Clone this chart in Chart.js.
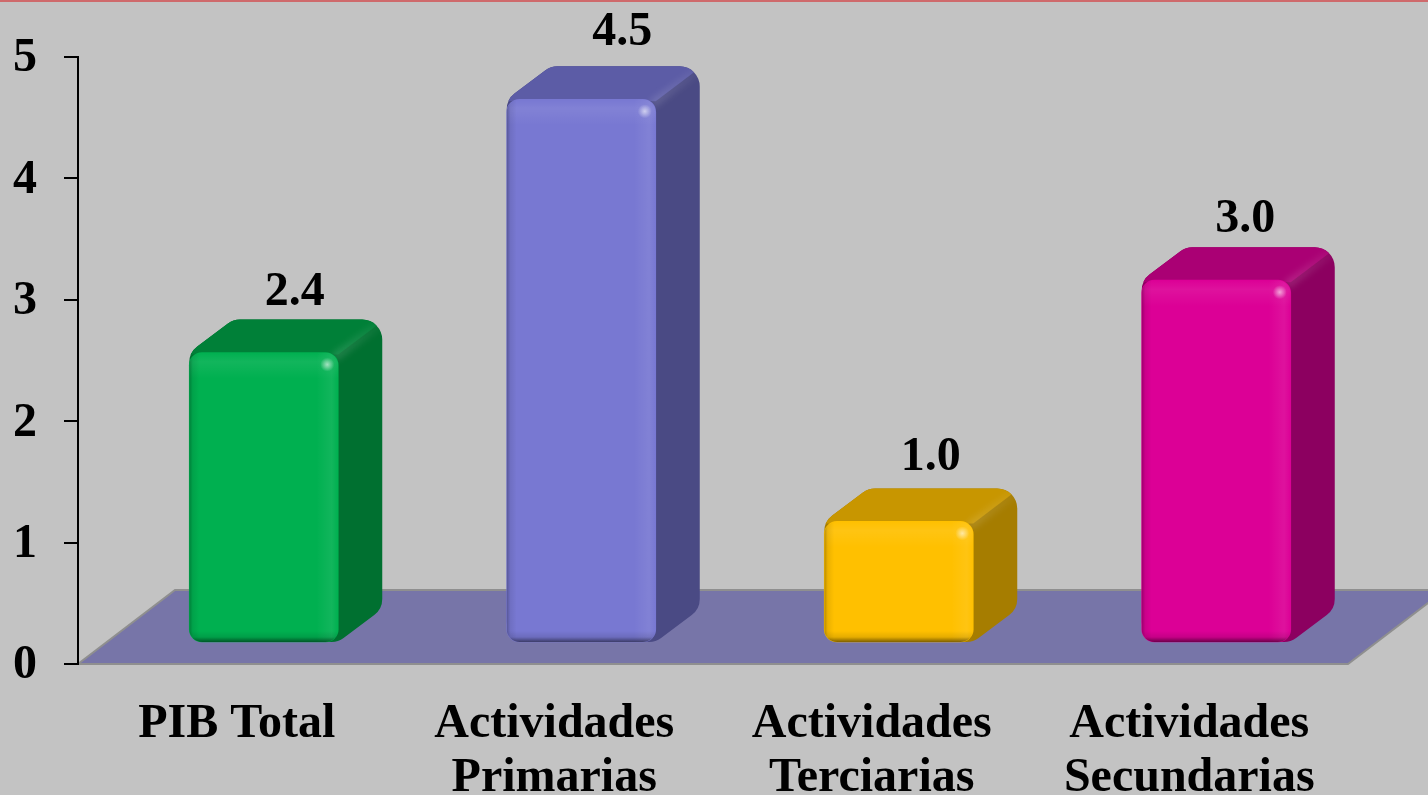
<!DOCTYPE html>
<html><head><meta charset="utf-8">
<style>html,body{margin:0;padding:0;background:#c3c3c3;overflow:hidden}
#bar{position:absolute;left:0;top:0;width:1428px;height:2px;background:#cf6a6c}
#w{position:absolute;left:0;top:0;width:1428px;height:795px}</style>
<script src="https://cdn.jsdelivr.net/npm/chart.js@4"></script>
</head><body><div id="w"><canvas id="c" width="1428" height="795"></canvas></div><div id="bar"></div>
<script>
const categories=[["PIB Total"],["Actividades","Primarias"],["Actividades","Terciarias"],["Actividades","Secundarias"]];
const values=[2.4,4.5,1.0,3.0];
const valueLabels=["2.4","4.5","1.0","3.0"];
const yTicks=[0,1,2,3,4,5];
const frontColors=["#00b050","#7878d2","#ffc000","#dc0096"];
const topColors=["#008038","#5c5ca6","#c89600","#aa0074"];
const sideColors=["#007030","#4a4a84","#a67d00","#8c0060"];
const labelNudge=[[31,-60],[41,-67],[32,-64],[29,-61]];

const FONT='"Liberation Serif"';
const DX=44,DY=33,R=13,SHIFT=27;

function roundPoly(ctx,pts,r){
  ctx.beginPath();
  const n=pts.length;
  const a=pts[n-1],b=pts[0];
  ctx.moveTo((a[0]+b[0])/2,(a[1]+b[1])/2);
  for(let i=0;i<n;i++){
    const p=pts[i],q=pts[(i+1)%n];
    ctx.arcTo(p[0],p[1],(p[0]+q[0])/2,(p[1]+q[1])/2,r);
  }
  ctx.closePath();
}
function lin(ctx,x0,y0,x1,y1,stops){
  const g=ctx.createLinearGradient(x0,y0,x1,y1);
  stops.forEach(s=>g.addColorStop(s[0],s[1]));
  return g;
}
const scene={
  id:'scene',
  beforeDraw(chart){
    const {ctx,scales:{x,y}}=chart;
    const b=y.getPixelForValue(0);
    ctx.save();
    ctx.beginPath();
    ctx.moveTo(x.left,b);ctx.lineTo(x.right,b);
    ctx.lineTo(x.right+97,b-74);ctx.lineTo(x.left+97,b-74);ctx.closePath();
    ctx.fillStyle='#7775a8';ctx.fill();
    ctx.lineWidth=2;ctx.strokeStyle='#8f8f8f';ctx.stroke();
    ctx.restore();
  },
  afterDatasetsUpdate(chart){
    chart.getDatasetMeta(0).data.forEach(el=>{el.x+=SHIFT;});
  },
  beforeDatasetDraw(chart){
    const {ctx}=chart;
    chart.getDatasetMeta(0).data.forEach((el,i)=>{
      const w=el.width,l=el.x-w/2,r=el.x+w/2,t=el.y,b=el.base;
      ctx.save();
      roundPoly(ctx,[[l,t],[l+DX,t-DY],[r+DX,t-DY],[r+DX,b-DY],[r,b],[l,b]],20);
      ctx.fillStyle=sideColors[i];ctx.fill();
      ctx.clip();
      ctx.beginPath();
      ctx.moveTo(l-5,t+2);ctx.lineTo(l+DX-5,t-DY-5);ctx.lineTo(r+DX+8,t-DY-5);ctx.lineTo(r+DX+1,t-DY+1);ctx.lineTo(r,t+2);ctx.closePath();
      ctx.fillStyle=topColors[i];ctx.fill();
      // soft ridge between top and side, fading toward the back
      ctx.filter='blur(3px)';
      ctx.beginPath();ctx.moveTo(r-4,t+5);ctx.lineTo(r+DX-3,t-DY+5);
      ctx.strokeStyle=lin(ctx,r,t,r+DX,t-DY,[[0,'rgba(255,255,255,0.12)'],[1,'rgba(255,255,255,0.03)']]);
      ctx.lineWidth=9;ctx.stroke();
      ctx.restore();
    });
  },
  afterDatasetDraw(chart){
    const {ctx}=chart;
    chart.getDatasetMeta(0).data.forEach((el,i)=>{
      const w=el.width,l=el.x-w/2,r=el.x+w/2,t=el.y,b=el.base;
      ctx.save();
      roundPoly(ctx,[[l,t],[r,t],[r,b],[l,b]],R);ctx.clip();
      ctx.fillStyle=lin(ctx,0,t,0,t+26,[[0,'rgba(255,255,255,0)'],[.35,'rgba(255,255,255,0.07)'],[1,'rgba(255,255,255,0)']]);
      ctx.fillRect(l,t,w,26);
      ctx.fillStyle=lin(ctx,l,0,l+10,0,[[0,'rgba(0,0,0,0.28)'],[.35,'rgba(0,0,0,0.08)'],[1,'rgba(0,0,0,0)']]);
      ctx.fillRect(l,t,10,b-t);
      ctx.fillStyle=lin(ctx,r-22,0,r,0,[[0,'rgba(255,255,255,0)'],[.7,'rgba(255,255,255,0.07)'],[1,'rgba(255,255,255,0)']]);
      ctx.fillRect(r-22,t,22,b-t);
      ctx.fillStyle=lin(ctx,0,b-11,0,b,[[0,'rgba(0,0,0,0)'],[.55,'rgba(0,0,0,0.10)'],[1,'rgba(0,0,0,0.50)']]);
      ctx.fillRect(l,b-11,w,11);
      const sx=r-11,sy=t+12;
      const g=ctx.createRadialGradient(sx,sy,0,sx,sy,7);
      g.addColorStop(0,'rgba(255,255,255,0.6)');g.addColorStop(1,'rgba(255,255,255,0)');
      ctx.fillStyle=g;ctx.fillRect(sx-7,sy-7,14,14);
      ctx.restore();
    });
  },
  afterDatasetsDraw(chart){
    const {ctx}=chart;
    ctx.save();
    ctx.font='bold 48px '+FONT;ctx.fillStyle='#000';ctx.textAlign='center';ctx.textBaseline='middle';
    chart.getDatasetMeta(0).data.forEach((el,i)=>{
      ctx.fillText(valueLabels[i],el.x+labelNudge[i][0],el.y+labelNudge[i][1]);
    });
    ctx.restore();
  }
};
const barUnit=120.6;
new Chart(document.getElementById('c'),{
  type:'bar',
  data:{labels:categories,datasets:[{
    data:values,yAxisID:'yBars',backgroundColor:frontColors,
    borderRadius:R,borderSkipped:false,borderWidth:0,clip:false,
    barThickness:149
  }]},
  options:{
    responsive:false,animation:false,
    layout:{padding:{top:57,right:80,left:0,bottom:0}},
    plugins:{legend:{display:false},tooltip:{enabled:false}},
    scales:{
      x:{
        grid:{display:false},border:{display:false},
        ticks:{font:{family:FONT,weight:'bold',size:48,lineHeight:1.125},color:'#000',maxRotation:0,minRotation:0,autoSkip:false,padding:26},
        afterFit(s){s.height=131;}
      },
      y:{
        min:yTicks[0],max:yTicks[yTicks.length-1],
        afterBuildTicks(s){s.ticks=yTicks.map(v=>({value:v}));},
        grid:{drawOnChartArea:false,color:'#000',lineWidth:2,tickLength:14,tickColor:'#000'},
        border:{display:true,color:'#000',width:2},
        ticks:{font:{family:FONT,weight:'bold',size:48},color:'#000',padding:27,labelOffset:2},
        afterFit(s){s.width=78;}
      },
      yBars:{
        display:false,
        min:-22/barUnit,max:585/barUnit
      }
    }
  },
  plugins:[scene]
});
</script></body></html>
